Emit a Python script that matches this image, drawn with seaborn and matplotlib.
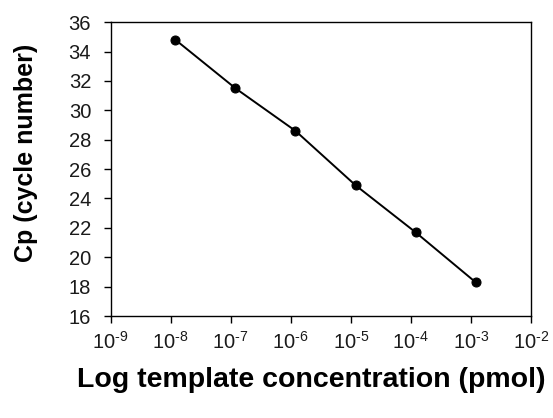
import numpy as np
import pandas as pd
import matplotlib
matplotlib.use("Agg")
import matplotlib.pyplot as plt
import matplotlib.ticker as mticker
import seaborn as sns

# values
concentration = [1.2e-8, 1.2e-7, 1.2e-6, 1.2e-5, 1.2e-4, 1.2e-3]
cp_values = [34.8, 31.5, 28.6, 24.9, 21.7, 18.3]
y_ticks = [16, 18, 20, 22, 24, 26, 28, 30, 32, 34, 36]
x_exponents = [-9, -8, -7, -6, -5, -4, -3, -2]

df = pd.DataFrame({"conc": concentration, "cp": cp_values})

sns.set_style("ticks")
plt.rcParams["font.family"] = ["Liberation Sans", "DejaVu Sans"]
plt.rcParams["mathtext.fontset"] = "custom"
plt.rcParams["mathtext.rm"] = "Liberation Sans"
plt.rcParams["axes.unicode_minus"] = False
plt.rcParams["text.color"] = "black"
plt.rcParams["axes.labelcolor"] = "black"

fig = plt.figure(figsize=(5.53, 4.18), dpi=100)
ax = fig.add_axes([0.2, 0.244, 0.76, 0.703])

sns.lineplot(data=df, x="conc", y="cp", ax=ax, color="black", linewidth=1.4,
             marker="o", markersize=6.5, markeredgecolor="black")

ax.set_xscale("log")
ax.set_xlim(1e-9, 1e-2)
ax.set_ylim(16, 36)
ax.set_yticks(y_ticks)
ax.set_xticks([10.0 ** e for e in x_exponents])
ax.set_xticklabels([r"$\mathdefault{10^{\text{%d}}}$" % e for e in x_exponents])
ax.xaxis.set_minor_locator(mticker.NullLocator())

for side in ["top", "right", "left", "bottom"]:
    ax.spines[side].set_visible(True)
    ax.spines[side].set_linewidth(1.0)
    ax.spines[side].set_color("black")

ax.tick_params(axis="both", direction="out", length=5, width=1, colors="black",
               labelcolor="#1a1a1a", labelsize=14.5)
ax.tick_params(axis="y", pad=9)
ax.tick_params(axis="x", pad=6)

ax.set_ylabel("Cp (cycle number)", fontsize=18, fontweight="bold", color="black")
ax.yaxis.set_label_coords(-0.173, 0.554)
xl = ax.set_xlabel("Log template concentration (pmol)", fontsize=20.5,
                   fontweight="bold", color="black")
xl.set_ha("left")
xl.set_va("top")
ax.xaxis.set_label_coords(-0.08, -0.172)

fig.savefig("out.png", dpi=100)
